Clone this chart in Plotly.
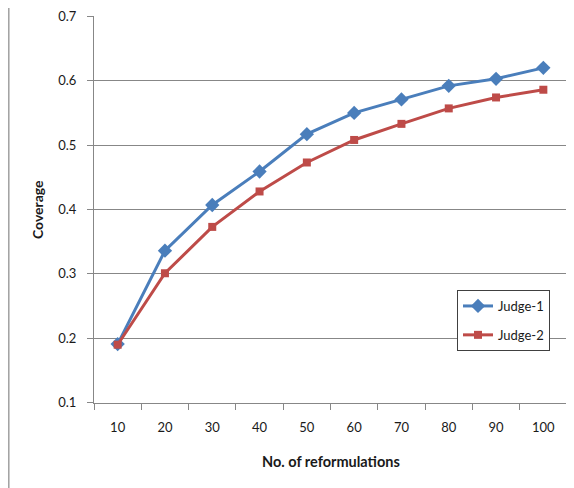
import plotly.graph_objects as go

categories = ["10", "20", "30", "40", "50", "60", "70", "80", "90", "100"]
judge1 = [0.191, 0.336, 0.407, 0.459, 0.517, 0.550, 0.571, 0.592, 0.603, 0.620]
judge2 = [0.190, 0.301, 0.373, 0.428, 0.473, 0.508, 0.533, 0.557, 0.574, 0.586]
y_min, y_max, y_step = 0.1, 0.7, 0.1

FONT = "Lato, 'Open Sans', sans-serif"
GRID = "#878787"
TXT = "#1a1a1a"

# page body has an 8px margin; plot area on screen: x 94..567, y 16..403
fig = go.Figure()
fig.add_trace(go.Scatter(
    x=categories, y=judge1, name="Judge-1", mode="lines+markers",
    legendgroup="a",
    line=dict(color="#4A7EBB", width=3),
    marker=dict(symbol="diamond", size=11, color="#4A7EBB"),
))
fig.add_trace(go.Scatter(
    x=categories, y=judge2, name="Judge-2", mode="lines+markers",
    legendgroup="b",
    line=dict(color="#BE4B48", width=3),
    marker=dict(symbol="square", size=8, color="#BE4B48"),
))

fig.update_layout(
    width=566, height=480,
    margin=dict(l=86, r=7, t=8, b=85),
    paper_bgcolor="white", plot_bgcolor="white",
    font=dict(family=FONT, size=13, color=TXT),
    showlegend=True,
    legend=dict(
        x=(457 - 94) / 473, y=(403 - 290) / 387, xanchor="left", yanchor="top",
        bgcolor="white", bordercolor="#404040", borderwidth=1,
        font=dict(family=FONT, size=13, color=TXT),
        traceorder="grouped", tracegroupgap=9,
    ),
    xaxis=dict(
        type="category", range=[-0.5, 9.5],
        showgrid=False, showline=True, linecolor=GRID, linewidth=1,
        ticks="outside", tickson="boundaries", ticklen=6, tickcolor=GRID,
        ticklabelstandoff=12,
        tickfont=dict(family=FONT, size=13, color=TXT),
        fixedrange=True,
    ),
    yaxis=dict(
        range=[y_min - 0.0005, y_max + 0.0005],
        tickmode="linear", tick0=y_min, dtick=y_step, tickformat=".1f",
        showgrid=True, gridcolor=GRID, gridwidth=1,
        showline=True, linecolor=GRID, linewidth=1,
        ticks="outside", ticklen=6, tickcolor=GRID,
        ticklabelstandoff=8, ticklabeloverflow="allow",
        tickfont=dict(family=FONT, size=13, color=TXT),
        zeroline=False, automargin=False,
    ),
    annotations=[
        dict(text="<b>No. of reformulations</b>", xref="paper", yref="paper",
             x=(331 - 94) / 473, y=(403 - 461) / 387, showarrow=False,
             xanchor="center", yanchor="middle",
             font=dict(family=FONT, size=14.5, color=TXT)),
        dict(text="<b>Coverage</b>", xref="paper", yref="paper",
             x=(38 - 94) / 473, y=(403 - 210) / 387, showarrow=False,
             textangle=-90, xanchor="center", yanchor="middle",
             font=dict(family=FONT, size=14, color=TXT)),
    ],
    shapes=[
        dict(type="line", xref="paper", yref="paper",
             x0=(8.8 - 94) / 473, x1=(8.8 - 94) / 473,
             y0=(403 - 500) / 387, y1=(403 - 0) / 387,
             line=dict(color="#A0A0A0", width=1.5)),
    ],
)

fig.write_html("out.html")
